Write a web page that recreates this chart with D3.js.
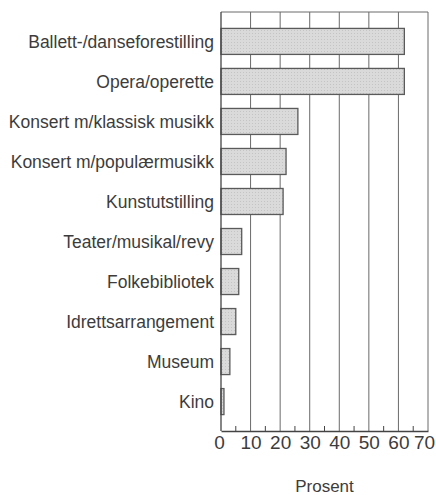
<!DOCTYPE html>
<html>
<head>
<meta charset="utf-8">
<script src="https://cdn.jsdelivr.net/npm/d3@7"></script>
<style>
  body { margin: 0; background: #fff; }
  svg text { font-family: "Liberation Sans", Arial, sans-serif; fill: #3c3c3c; }
</style>
</head>
<body>
<svg id="chart" width="436" height="495"></svg>
<script>
// categories and values (prosent)
var categories = ["Ballett-/danseforestilling", "Opera/operette", "Konsert m/klassisk musikk",
  "Konsert m/populærmusikk", "Kunstutstilling", "Teater/musikal/revy", "Folkebibliotek",
  "Idrettsarrangement", "Museum", "Kino"];
var values = [62, 62, 26, 22, 21, 7, 6, 5, 3, 1];
var tickValues = [0, 10, 20, 30, 40, 50, 60, 70];
var axisTitle = "Prosent";

var W = 436, H = 495;
var margin = { top: 12, right: 8, bottom: 64, left: 221 };

var svg = d3.select("#chart");

// halftone-ish fill for the bars
var pat = svg.append("defs").append("pattern")
  .attr("id", "dots").attr("width", 3).attr("height", 3)
  .attr("patternUnits", "userSpaceOnUse");
pat.append("rect").attr("width", 3).attr("height", 3).attr("fill", "#dadada");
pat.append("rect").attr("width", 1).attr("height", 1).attr("fill", "#c4c4c4");

var x = d3.scaleLinear().domain([0, 70]).range([margin.left, W - margin.right]);
var y = d3.scaleBand().domain(categories)
  .range([margin.top, H - margin.bottom])
  .paddingInner(0.35).paddingOuter(0.41);

///////////////////////////////////////////////////////////////////////////////
// grid + frame

svg.append("g").selectAll("line.grid")
  .data(tickValues.slice(1))
  .join("line")
  .attr("x1", function (d) { return x(d); })
  .attr("x2", function (d) { return x(d); })
  .attr("y1", margin.top)
  .attr("y2", H - margin.bottom)
  .attr("stroke", "#6a6a6a")
  .attr("stroke-width", 1);

svg.append("line")
  .attr("x1", x(0)).attr("x2", x(70))
  .attr("y1", margin.top).attr("y2", margin.top)
  .attr("stroke", "#6a6a6a");

// minor ticks at 5, 15, ...
var minor = d3.range(5, 70, 10);
svg.append("g").selectAll("line")
  .data(minor)
  .join("line")
  .attr("x1", function (d) { return x(d); })
  .attr("x2", function (d) { return x(d); })
  .attr("y1", H - margin.bottom)
  .attr("y2", H - margin.bottom - 5)
  .attr("stroke", "#444");

///////////////////////////////////////////////////////////////////////////////
// bars

svg.append("g").selectAll("rect")
  .data(values)
  .join("rect")
  .attr("x", x(0))
  .attr("y", function (d, i) { return y(categories[i]); })
  .attr("width", function (d) { return x(d) - x(0); })
  .attr("height", y.bandwidth())
  .attr("fill", "url(#dots)")
  .attr("stroke", "#5a5a5a")
  .attr("stroke-width", 1.3);

// left + bottom axis lines
svg.append("line")
  .attr("x1", x(0)).attr("x2", x(0))
  .attr("y1", margin.top).attr("y2", H - margin.bottom)
  .attr("stroke", "#444").attr("stroke-width", 1.3);

var xAxis = svg.append("g")
  .attr("transform", "translate(0," + (H - margin.bottom) + ")")
  .call(d3.axisBottom(x).tickValues(tickValues).tickSize(0).tickPadding(5));
xAxis.select(".domain").attr("stroke", "#444").attr("stroke-width", 1.3);
xAxis.selectAll("text")
  .attr("font-size", "19px")
  .attr("font-family", "'Liberation Sans Narrow', 'Liberation Sans', Arial, sans-serif")
  .attr("fill", "#3c3c3c")
  .attr("dx", function (d) { return d === 70 ? "-4" : d === 0 ? "-2" : "0"; });

// category labels
svg.append("g").selectAll("text")
  .data(categories)
  .join("text")
  .attr("x", x(0) - 7)
  .attr("y", function (d) { return y(d) + y.bandwidth() / 2; })
  .attr("dy", "0.36em")
  .attr("text-anchor", "end")
  .attr("font-size", "17.5px")
  .text(function (d) { return d; });

svg.append("text")
  .attr("x", (x(0) + x(70)) / 2)
  .attr("y", 492)
  .attr("text-anchor", "middle")
  .attr("font-size", "17px")
  .text(axisTitle);
</script>
</body>
</html>
